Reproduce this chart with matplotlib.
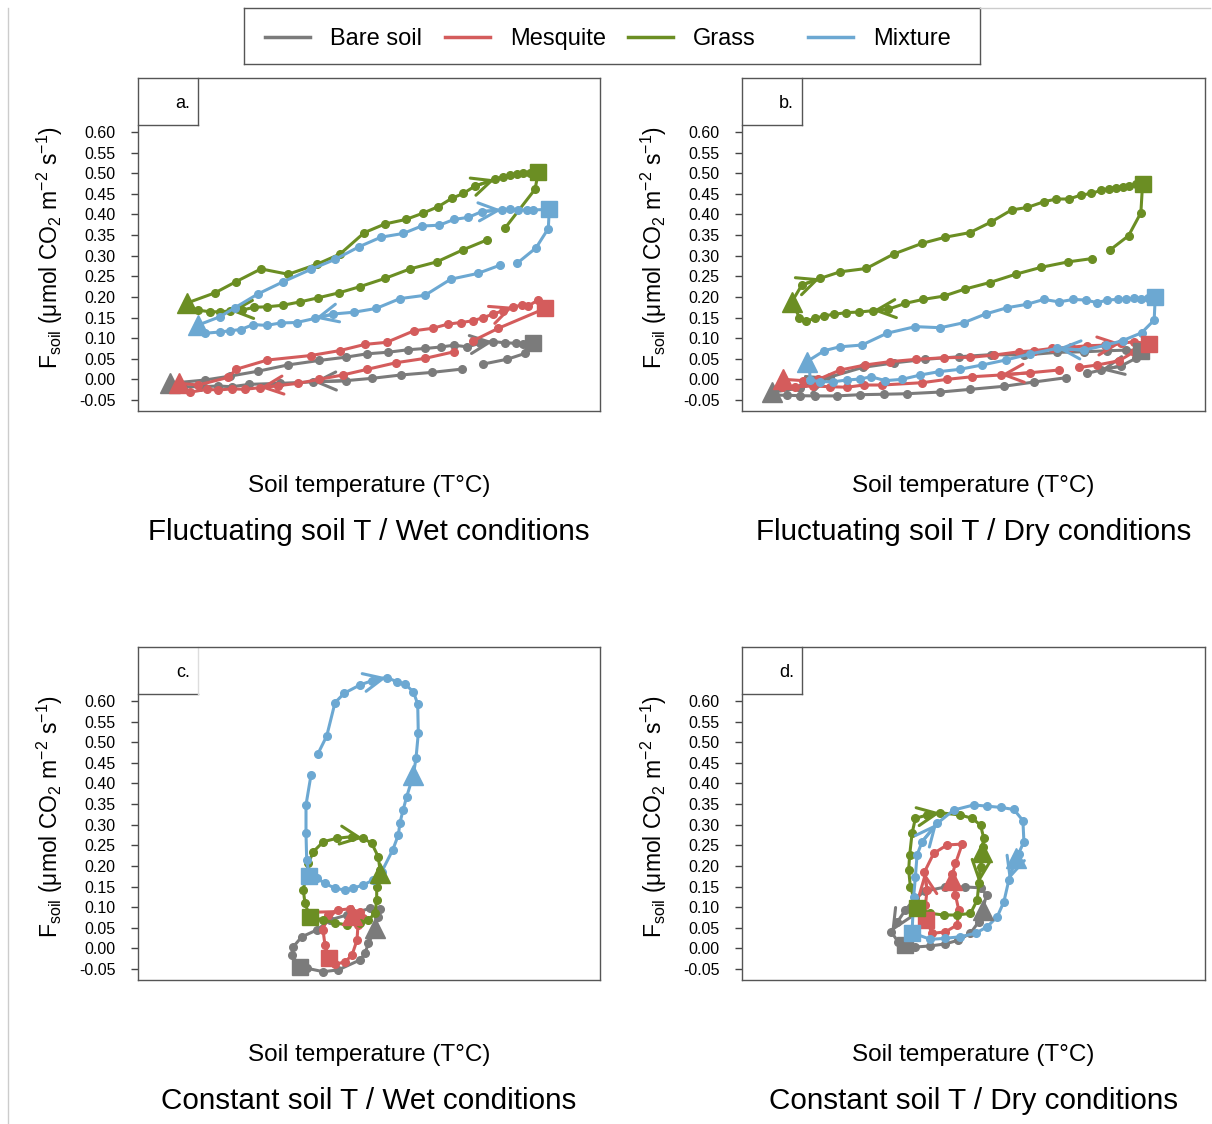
import numpy as np
import matplotlib
matplotlib.use('Agg')
import matplotlib.pyplot as plt
from matplotlib.lines import Line2D

plt.rcParams['font.family'] = ['Liberation Sans', 'DejaVu Sans']
plt.rcParams['mathtext.fontset'] = 'custom'
plt.rcParams['mathtext.rm'] = 'Liberation Sans'
plt.rcParams['mathtext.it'] = 'Liberation Sans:italic'

nan = np.nan

# series: first point = start (triangle), *_SQ = index of square, *_ARR = arrow tips
# panel a: fluctuating T, wet
A_BARE_T = [3.2, 6.7, 9.2, 12.03, 14.97, 18.13, 20.8, 22.87, 25.03, 27.03, 28.7, 30.27, 31.6, 32.93, 34.2, 35.53,
            36.7, 37.8, 38.53, 39.53, 38.7, 36.93, 34.47, nan, 32.37, 29.37, 26.27, 23.43, 20.8, 17.5, 14.2, 11.13,
            9.37, 8.03, 6.2, 4.53]
A_BARE_F = [-0.0095, -0.0015, 0.008, 0.020, 0.035, 0.046, 0.054, 0.062, 0.066, 0.072, 0.075, 0.0786, 0.083, 0.079,
            0.0875, 0.0915, 0.089, 0.0875, 0.086, 0.0875, 0.063, 0.049, 0.037, nan, 0.025, 0.017, 0.0107, 0.0027,
            -0.003, -0.006, -0.0095, -0.012, -0.0177, -0.016, -0.0177, -0.0177]
A_BARE_SQ, A_BARE_ARR = 19, [15, 29]

A_MESQ_T = [4.13, 6.03, 9.03, 9.8, 12.93, 17.3, 20.2, 22.7, 24.87, 27.6, 29.47, 30.97, 32.27, 33.47, 34.53, 35.47,
            36.53, 37.53, 38.37, 39.03, 40.03, 40.7, 36.03, 33.53, nan, 31.6, 28.7, 25.8, 22.93, 20.47, 18.13, 16.03,
            14.03, 12.2, 10.7, 9.37, 8.03, 6.87, 5.2]
A_MESQ_F = [-0.0095, -0.0136, 0.005, 0.0245, 0.047, 0.058, 0.070, 0.085, 0.090, 0.118, 0.124, 0.134, 0.138, 0.142,
            0.150, 0.158, 0.167, 0.176, 0.180, 0.178, 0.193, 0.172, 0.124, 0.094, nan, 0.067, 0.051, 0.0405, 0.0245,
            0.0107, 0.0002, -0.0095, -0.015, -0.020, -0.024, -0.023, -0.0257, -0.024, -0.031]
A_MESQ_SQ, A_MESQ_ARR = 21, [17, 33]

A_GRASS_T = [4.87, 7.70, 9.80, 12.30, 15.03, 17.87, 20.20, 22.63, 24.70, 26.80, 28.47, 30.03, 31.37, 32.53, 33.70,
             35.70, 36.53, 37.20, 37.87, 38.53, 39.20, 40.03, 39.70, 36.70, nan, 34.87, 32.47, 29.87, 27.20, 24.70,
             22.20, 20.10, 18.03, 16.20, 14.53, 12.87, 11.60, 10.43, 9.20, 8.20, 7.20, 6.03, 5.20]
A_GRASS_F = [0.185, 0.210, 0.237, 0.268, 0.255, 0.279, 0.304, 0.356, 0.377, 0.388, 0.403, 0.419, 0.439, 0.451, 0.469,
             0.485, 0.492, 0.495, 0.497, 0.500, 0.501, 0.502, 0.461, 0.367, nan, 0.338, 0.314, 0.285, 0.268, 0.245,
             0.225, 0.210, 0.198, 0.188, 0.180, 0.176, 0.175, 0.168, 0.166, 0.164, 0.164, 0.168, 0.170]
A_GRASS_SQ, A_GRASS_ARR = 21, [15, 38]

A_MIX_T = [6.03, 8.2, 9.7, 11.97, 14.53, 17.3, 19.7, 22.13, 24.3, 26.53, 28.37, 30.13, 31.6, 33.03, 34.37, 36.37,
           37.2, 38.03, 38.87, 39.53, 41.13, 41.03, 39.8, 37.93, nan, 36.2, 33.97, 31.27, 28.7, 26.2, 23.8, 21.6,
           19.53, 17.7, 15.87, 14.27, 12.87, 11.53, 10.27, 9.2, 8.2, 6.7]
A_MIX_F = [0.132, 0.152, 0.174, 0.207, 0.237, 0.267, 0.291, 0.322, 0.345, 0.354, 0.372, 0.374, 0.388, 0.393, 0.407,
           0.411, 0.414, 0.411, 0.411, 0.411, 0.4125, 0.366, 0.319, 0.282, nan, 0.277, 0.257, 0.243, 0.204, 0.196,
           0.172, 0.163, 0.1586, 0.148, 0.138, 0.137, 0.131, 0.133, 0.121, 0.118, 0.115, 0.112]
A_MIX_SQ, A_MIX_ARR = 20, [15, 33]

# panel b: fluctuating T, dry
B_BARE_T = [3.0, 5.8, 8.8, 12.03, 15.13, 18.3, 21.63, 24.8, 28.13, 31.47, 34.13, 36.47, 38.3, 39.8, 39.3, 37.8,
            35.8, 34.47, nan, 32.3, 29.13, 26.13, 22.8, 19.8, 16.47, 14.13, 11.8, 9.47, 7.3, 5.8, 4.47, 3.3]
B_BARE_F = [-0.031, -0.021, 0.006, 0.029, 0.040, 0.0487, 0.055, 0.060, 0.059, 0.0657, 0.067, 0.0696, 0.071, 0.0696,
            0.051, 0.0325, 0.0228, 0.0148, nan, 0.004, -0.0063, -0.0167, -0.024, -0.0306, -0.0347, -0.036, -0.037,
            -0.040, -0.040, -0.0395, -0.0385, -0.038]
B_BARE_SQ, B_BARE_ARR = 13, [2, 16]

B_MESQ_T = [4.13, 6.13, 7.63, 9.8, 12.3, 14.73, 17.37, 20.13, 22.8, 25.13, 27.63, 29.13, 30.97, 32.8, 34.47, 36.2,
            37.8, 39.13, 40.63, 39.13, 37.63, 35.47, 33.63, nan, 31.63, 28.73, 25.8, 22.97, 20.47, 17.97, 13.97,
            12.13, 10.47, 8.8, 7.13, 5.3, 3.97]
B_MESQ_F = [0.0002, -0.003, 0.0002, 0.0228, 0.035, 0.043, 0.0487, 0.0526, 0.0536, 0.059, 0.067, 0.0696, 0.0754,
            0.078, 0.0817, 0.083, 0.0875, 0.0914, 0.086, 0.067, 0.0453, 0.035, 0.029, nan, 0.0228, 0.0162, 0.0107,
            0.0065, 0.0002, -0.008, -0.0136, -0.0136, -0.019, -0.0177, -0.016, -0.0177, -0.019]
B_MESQ_SQ, B_MESQ_ARR = 18, [16, 26]

B_GRASS_T = [4.97, 5.97, 7.8, 9.8, 12.4, 15.13, 17.97, 20.3, 22.73, 24.8, 26.9, 28.47, 30.13, 31.37, 32.63, 33.8,
             34.87, 35.87, 36.63, 37.3, 37.97, 38.63, 39.3, 39.97, 39.8, 38.57, 36.73, nan, 34.9, 32.53, 29.87, 27.3,
             24.73, 22.23, 20.13, 18.07, 16.3, 14.57, 13.03, 11.7, 10.4, 9.23, 8.23, 7.3, 6.4, 5.73, 5.23]
B_GRASS_F = [0.188, 0.229, 0.245, 0.261, 0.269, 0.304, 0.330, 0.345, 0.356, 0.381, 0.411, 0.417, 0.431, 0.4375,
             0.4375, 0.447, 0.451, 0.459, 0.463, 0.465, 0.467, 0.469, 0.473, 0.474, 0.404, 0.3485, 0.314, nan, 0.293,
             0.285, 0.272, 0.255, 0.235, 0.219, 0.202, 0.194, 0.1845, 0.170, 0.1666, 0.1634, 0.162, 0.158, 0.1545,
             0.148, 0.1416, 0.1496, 0.176]
B_GRASS_SQ, B_GRASS_ARR = 23, [2, 38]

B_MIX_T = [6.47, 8.2, 9.73, 11.97, 14.47, 17.3, 19.8, 22.13, 24.3, 26.47, 28.4, 30.13, 31.63, 33.07, 34.3, 35.47,
           36.4, 37.47, 38.3, 39.07, 39.8, 40.47, 41.23, 41.13, 39.87, 37.97, 36.3, 34.13, 31.47, 28.73, 26.3, 23.97,
           21.73, 19.63, 17.8, 15.97, 14.3, 12.87, 11.8, 10.47, 9.13, 7.8, 6.8, 6.73]
B_MIX_F = [0.043, 0.0696, 0.079, 0.0834, 0.112, 0.128, 0.1254, 0.1375, 0.1586, 0.174, 0.182, 0.194, 0.188, 0.194,
           0.1925, 0.186, 0.1925, 0.194, 0.195, 0.1967, 0.195, 0.1967, 0.199, 0.144, 0.113, 0.094, 0.083, 0.071,
           0.0754, 0.0616, 0.047, 0.035, 0.0245, 0.0187, 0.0107, 0.0002, -0.003, 0.0065, 0.001, -0.0015, -0.0056,
           -0.0056, -0.0015, 0.029]
B_MIX_SQ, B_MIX_ARR = 22, [28]

# panel c: constant T, wet
C_BARE_T = [23.7, 24.03, 24.2, 23.2, 20.87, 19.2, 17.87, 16.37, 15.53, 15.37, 16.2, 16.87, 18.53, 20.03, 22.2, 22.7,
            23.03, 23.5]
C_BARE_F = [0.0487, 0.077, 0.095, 0.097, 0.081, 0.069, 0.0446, 0.028, 0.004, -0.016, -0.0444, -0.048, -0.0565,
            -0.052, -0.028, -0.012, 0.012, 0.035]
C_BARE_SQ, C_BARE_ARR = 10, []

C_MESQ_T = [21.4, 22.0, 21.9, 21.4, 20.7, 19.7, 19.1, 18.7, 18.5, 19.0, 20.0, 21.2, 22.2, 22.5, 21.6]
C_MESQ_F = [0.081, 0.057, 0.020, -0.016, -0.033, -0.038, -0.023, 0.008, 0.045, 0.081, 0.093, 0.096, 0.088, 0.074,
            0.075]
C_MESQ_SQ, C_MESQ_ARR = 6, [10]

C_GRASS_T = [24.2, 23.87, 23.87, 23.7, 23.03, 22.2, 20.87, 19.7, 18.53, 17.2, 16.7, 16.53, 17.03, 17.53, 18.53,
             19.87, 21.37, 22.53, 23.37, 24.03, 24.2]
C_GRASS_F = [0.182, 0.1496, 0.1174, 0.085, 0.069, 0.061, 0.057, 0.062, 0.069, 0.077, 0.109, 0.1416, 0.206, 0.2345,
             0.2587, 0.267, 0.271, 0.267, 0.255, 0.222, 0.19]
C_GRASS_SQ, C_GRASS_ARR = 9, [17]

C_MIX_T = [27.53, 26.87, 26.5, 26.2, 26.03, 25.47, 24.37, 23.53, 22.53, 21.47, 20.7, 19.7, 18.7, 17.87, 17.13,
           16.87, 16.8, 16.8, 17.3, nan, 17.97, 18.87, 19.7, 20.63, 22.2, 23.37, 24.87, 25.87, 26.7, 27.53, 27.97,
           28.03, 27.8, 27.53]
C_MIX_F = [0.4205, 0.368, 0.335, 0.305, 0.275, 0.2386, 0.186, 0.166, 0.154, 0.1457, 0.1416, 0.1457, 0.158, 0.170,
           0.1756, 0.214, 0.279, 0.348, 0.4205, nan, 0.471, 0.515, 0.596, 0.619, 0.639, 0.649, 0.657, 0.647, 0.641,
           0.6225, 0.593, 0.5216, 0.461, 0.4205]
C_MIX_SQ, C_MIX_ARR = 14, [26]

# panel d: constant T, dry
D_BARE_T = [24.0, 24.4, 23.8, 22.3, 20.3, 18.3, 17.3, 16.3, 15.5, 14.9, 15.6, 16.3, 17.3, 18.8, 20.3, 21.6, 22.8,
            23.6]
D_BARE_F = [0.093, 0.130, 0.147, 0.149, 0.149, 0.139, 0.122, 0.093, 0.064, 0.040, 0.015, 0.008, 0.0034, 0.006,
            0.011, 0.020, 0.037, 0.064]
D_BARE_SQ, D_BARE_ARR = 11, [9]

D_MESQ_T = [20.97, 21.3, 21.63, 21.47, 20.3, 18.97, 18.4, 18.3, 18.47, 18.2, 19.13, 20.47, 21.97, 21.3, 21.0]
D_MESQ_F = [0.166, 0.1295, 0.093, 0.057, 0.040, 0.0366, 0.069, 0.105, 0.1416, 0.185, 0.2306, 0.251, 0.253, 0.206,
            0.18]
D_MESQ_SQ, D_MESQ_ARR = 6, [9]

D_GRASS_T = [23.97, 23.8, 23.63, 23.47, 22.8, 21.47, 20.13, 18.8, 17.47, 16.8, 16.63, 16.73, 16.97, 17.3, 18.47,
             19.8, 21.8, 22.97, 23.8, 24.13, 24.0]
D_GRASS_F = [0.2345, 0.198, 0.158, 0.117, 0.085, 0.081, 0.081, 0.085, 0.097, 0.1496, 0.190, 0.2265, 0.279, 0.3155,
             0.3235, 0.329, 0.3235, 0.3155, 0.299, 0.267, 0.245]
D_GRASS_SQ, D_GRASS_ARR = 8, [2, 15]

D_MIX_T = [27.3, 26.63, 26.13, 25.47, 24.47, 23.3, 21.8, 20.3, 18.8, 16.97, 17.13, 17.3, 17.47, 17.97, 19.47, 21.13,
           23.13, 24.47, 25.8, 27.13, 28.03, 28.13, 27.6]
D_MIX_F = [0.2185, 0.166, 0.113, 0.077, 0.0526, 0.0366, 0.0284, 0.0245, 0.022, 0.038, 0.125, 0.174, 0.2265, 0.259,
           0.303, 0.3356, 0.348, 0.345, 0.342, 0.337, 0.310, 0.259, 0.23]
D_MIX_SQ, D_MIX_ARR = 9, [1, 14]

YTICKS = [0.60, 0.55, 0.50, 0.45, 0.40, 0.35, 0.30, 0.25, 0.20, 0.15, 0.10, 0.05, 0.00, -0.05]
LABELS = ['Bare soil', 'Mesquite', 'Grass', 'Mixture']
COLORS = ['#7b7b7b', '#d45c5c', '#6b8e23', '#6ca8d2']
PANELS = ['a.', 'b.', 'c.', 'd.']
TITLES = ['Fluctuating soil T / Wet conditions', 'Fluctuating soil T / Dry conditions',
          'Constant soil T / Wet conditions', 'Constant soil T / Dry conditions']

series = [
    [(A_BARE_T, A_BARE_F, A_BARE_SQ, A_BARE_ARR), (A_MESQ_T, A_MESQ_F, A_MESQ_SQ, A_MESQ_ARR),
     (A_GRASS_T, A_GRASS_F, A_GRASS_SQ, A_GRASS_ARR), (A_MIX_T, A_MIX_F, A_MIX_SQ, A_MIX_ARR)],
    [(B_BARE_T, B_BARE_F, B_BARE_SQ, B_BARE_ARR), (B_MESQ_T, B_MESQ_F, B_MESQ_SQ, B_MESQ_ARR),
     (B_GRASS_T, B_GRASS_F, B_GRASS_SQ, B_GRASS_ARR), (B_MIX_T, B_MIX_F, B_MIX_SQ, B_MIX_ARR)],
    [(C_BARE_T, C_BARE_F, C_BARE_SQ, C_BARE_ARR), (C_MESQ_T, C_MESQ_F, C_MESQ_SQ, C_MESQ_ARR),
     (C_GRASS_T, C_GRASS_F, C_GRASS_SQ, C_GRASS_ARR), (C_MIX_T, C_MIX_F, C_MIX_SQ, C_MIX_ARR)],
    [(D_BARE_T, D_BARE_F, D_BARE_SQ, D_BARE_ARR), (D_MESQ_T, D_MESQ_F, D_MESQ_SQ, D_MESQ_ARR),
     (D_GRASS_T, D_GRASS_F, D_GRASS_SQ, D_GRASS_ARR), (D_MIX_T, D_MIX_F, D_MIX_SQ, D_MIX_ARR)],
]


def draw_loop(ax, T, F, sq, arrows, c):
    ax.plot(T, F, '-', color=c, lw=2.2, marker='o', ms=5.5, mec=c, mfc=c, zorder=3)
    for i in arrows:
        ax.annotate('', xy=(T[i], F[i]), xytext=(T[i - 1], F[i - 1]),
                    arrowprops=dict(arrowstyle='->,head_length=1.4,head_width=0.65', color=c, lw=2.2,
                                    shrinkA=0, shrinkB=0), zorder=3)
    ax.plot(T[0], F[0], marker='^', ms=15, color=c, mec=c, zorder=4)
    ax.plot(T[sq], F[sq], marker='s', ms=12, color=c, mec=c, zorder=4)


W, H = 1212, 1124
fig = plt.figure(figsize=(W / 100, H / 100), dpi=100)

boxes = [(138, 78, 600, 411), (742, 78, 1205, 411), (138, 647, 600, 980), (742, 647, 1205, 980)]
for k, (x0, y0, x1, y1) in enumerate(boxes):
    ax = fig.add_axes([x0 / W, 1 - y1 / H, (x1 - x0) / W, (y1 - y0) / H])
    for (T, F, sq, arr), c in zip(series[k], COLORS):
        draw_loop(ax, T, F, sq, arr, c)
    ax.set_xlim(0, 46.2)
    ax.set_ylim(-0.0766, 0.731)
    ax.set_xticks([])
    ax.set_yticks(YTICKS)
    ax.set_yticklabels(['%.2f' % v for v in YTICKS])
    ax.tick_params(axis='y', direction='out', length=5, width=1, color='#444444', pad=11, labelsize=11.5)
    for s in ax.spines.values():
        s.set_color('#555555')
        s.set_linewidth(1)
    # panel tag box
    bx, by = 0.13, 1 - 0.141
    ax.plot([0, bx], [by, by], color='#555555', lw=1, transform=ax.transAxes, clip_on=False)
    ax.plot([bx, bx], [by, 1], color='#dddddd' if k == 2 else '#555555', lw=1,
            transform=ax.transAxes, clip_on=False)
    ax.text(0.112, 0.922, PANELS[k], transform=ax.transAxes, ha='right', va='center', fontsize=13)
    ax.text(-0.19, 0.49, r'F$_{\mathrm{soil}}$ ($\mathrm{\mu}$mol CO$_2$ m$^{-2}$ s$^{-1}$)',
            transform=ax.transAxes, rotation=90, ha='center', va='center', fontsize=16.5)
    ax.text(0.5, -0.225, 'Soil temperature (T\u00b0C)', transform=ax.transAxes,
            ha='center', va='center', fontsize=17.5)
    ax.text(0.5, -0.362, TITLES[k], transform=ax.transAxes, ha='center', va='center', fontsize=21.3)

# legend box
lax = fig.add_axes([244 / W, 1 - 64 / H, 736 / W, 56 / H])
lax.set_xlim(244, 980)
lax.set_ylim(64, 8)
lax.set_xticks([])
lax.set_yticks([])
for s in lax.spines.values():
    s.set_color('#555555')
    s.set_linewidth(1)
for lx, lab, c in zip([265, 445, 628, 808], LABELS, COLORS):
    lax.plot([lx, lx + 45], [37, 37], color=c, lw=2.5)
    lax.text(lx + 65, 45, lab, ha='left', va='baseline', fontsize=17)

# faint frame lines
fig.add_artist(Line2D([8 / W, 8 / W], [0, 1 - 8 / H], color='#cccccc', lw=1))
fig.add_artist(Line2D([980 / W, 1210 / W], [1 - 8 / H, 1 - 8 / H], color='#cccccc', lw=1))

fig.savefig('out.png', dpi=100)
